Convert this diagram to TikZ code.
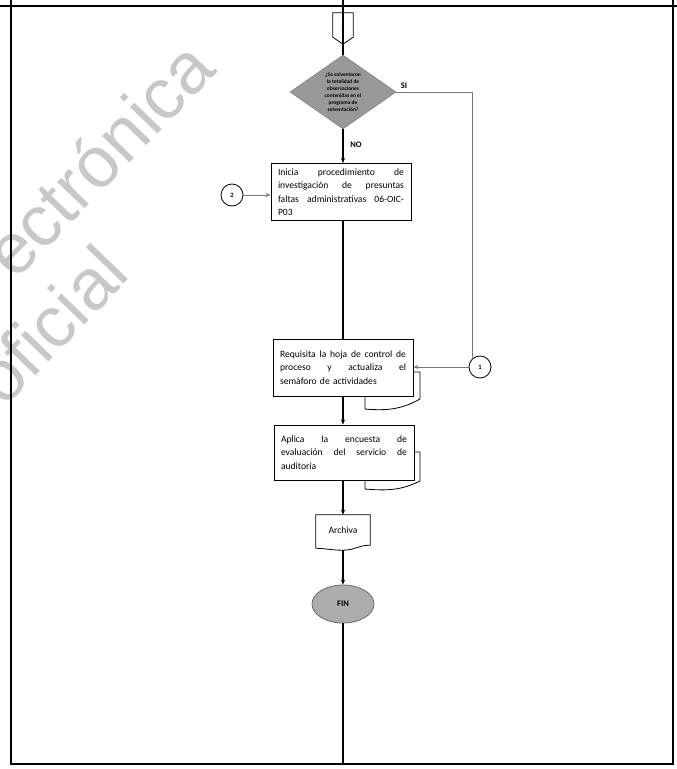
\documentclass[tikz,border=0pt]{standalone}
\usepackage{fontspec}
\setmainfont{Carlito}
\newfontfamily\wmfont{Liberation Sans}
\usetikzlibrary{shapes.geometric,arrows.meta,calc}
\definecolor{diagray}{RGB}{152,152,152}
\definecolor{fingray}{RGB}{172,172,172}
\definecolor{wmgray}{RGB}{200,200,200}
\definecolor{linegray}{RGB}{120,120,120}
\newcommand\jl[1]{\leavevmode\hbox to 126pt{#1}}
\begin{document}
\begin{tikzpicture}[x=1pt,y=-1pt,
 mainline/.style={line width=1.3pt, black},
 thinline/.style={line width=0.6pt, linegray},
 frameline/.style={line width=1.2pt, black},
 arr/.style={-{Stealth[length=5pt,width=4pt]}},
 procbox/.style={draw, line width=0.9pt, rectangle, inner xsep=7pt, inner ysep=0pt,
   text width=126pt, minimum width=140pt, font=\fontsize{9.6}{13.5}\selectfont, align=left, fill=white},
 docline/.style={draw, line width=0.8pt, fill=white},
 conn/.style={draw, circle, line width=0.8pt, minimum size=22pt, inner sep=0pt,
   font=\bfseries\fontsize{6.5}{7}\selectfont, fill=white},
 lab/.style={font=\bfseries\fontsize{8.5}{9}\selectfont, inner sep=0pt},
 wm/.style={font=\wmfont\fontsize{72}{72}\selectfont, text=wmgray, inner sep=0pt, anchor=base west, rotate=46}
]
\useasboundingbox (0,0) rectangle (677,769);
% watermark
\begin{scope}
\clip (0,0) rectangle (677,769);
\node[wm] (wm1) at (15,282) {ectrónica};
\node[wm] (wm2) at (4,409) {oficial};
\end{scope}
% frame
\draw[line width=2.4pt] (0,6) -- (677,6);
\draw[frameline] (11,0) -- (11,765);
\draw[frameline] (673,0) -- (673,765);
\draw[frameline] (11,764) -- (673,764);
% coordinates
\coordinate (top) at (343,0);
\coordinate (bot) at (343,764);
% off-page connector
\node[inner sep=0pt, minimum width=20pt, minimum height=31pt] (off3) at (343,28.5) {};
\draw[line width=0.8pt] (off3.north west) -- (off3.north east) -- ($(off3.south east)+(0,-7)$)
  -- (off3.south) -- ($(off3.south west)+(0,-7)$) -- cycle;
\node[font=\bfseries\fontsize{6}{6}\selectfont, inner sep=0pt] (off3lab) at (off3.center) {3};
% decision
\node[diamond, draw=diagray!75!black, fill=diagray, aspect=1.43, inner sep=0pt,
  minimum width=106pt, minimum height=74pt, align=center,
  font=\bfseries\fontsize{5.4}{7}\selectfont] (dia) at (343,92)
  {¿Se solventaron\\la totalidad de\\observaciones\\contenidas en el\\programa de\\solventación?};
\node[lab] (si) at (404,86) {SI};
\node[lab] (no) at (356,145) {NO};
% document shadows
\draw[docline] (365,372) -- (420,372) -- (420,399) .. controls (402,409) and (388,411) .. (365,409) -- cycle;
\draw[docline] (365,452) -- (420,452) -- (420,481) .. controls (402,490) and (388,491) .. (365,489) -- cycle;
% process boxes
\node[procbox, minimum height=57pt] (box1) at (341,192)
  {\jl{Inicia\hfill procedimiento\hfill de}\\\jl{investigación\hfill de\hfill presuntas}\\\jl{faltas\hfill administrativas\hfill 06-OIC-}\\P03};
\node[procbox, minimum height=57pt] (box2) at (343,367.5)
  {\jl{Requisita\hfill la\hfill hoja\hfill de\hfill control\hfill de}\\\jl{proceso\hfill y\hfill actualiza\hfill el}\\semáforo de actividades};
\node[procbox, minimum height=55pt] (box3) at (344,452.5)
  {\jl{Aplica\hfill la\hfill encuesta\hfill de}\\\jl{evaluación\hfill del\hfill servicio\hfill de}\\auditoría};
% archive document
\node[inner sep=0pt, minimum width=54pt, minimum height=30pt, font=\fontsize{9.6}{10}\selectfont] (arch) at (343,530) {Archiva};
\draw[line width=0.8pt] (arch.south west) -- (arch.north west) -- (arch.north east) -- (arch.south east)
  .. controls +(-12,0) and +(12,0) .. ($(arch.south)+(0,5)$)
  .. controls +(-12,0) and +(8,0) .. ($(arch.south west)+(0,3)$) -- cycle;
% end
\node[ellipse, draw=diagray!70!black, line width=0.8pt, fill=fingray, minimum width=62pt, minimum height=38pt,
  inner sep=0pt, font=\bfseries\fontsize{8.5}{9}\selectfont] (fin) at (343,604) {FIN};
% connectors (circles)
\node[conn] (c1) at (480,367) {1};
\node[conn] (c2) at (232,195) {2};
% main flow
\draw[mainline] (top) -- (dia.north);
\draw[mainline, arr] (dia.south) -- (dia.south |- box1.north);
\draw[mainline] (dia.south |- box1.south) -- (box2.north);
\draw[mainline, arr] (box2.south) -- (box2.south |- box3.north);
\draw[mainline, arr] (box2.south |- box3.south) -- (arch.north);
\draw[mainline, arr] ($(arch.south)+(0,5)$) -- (fin.north);
\draw[mainline] (fin.south) -- (bot);
% side flows
\draw[thinline] (dia.east) -| (c1.north west);
\draw[thinline, arr] (c1.west) -- (c1.west -| box2.east);
\draw[thinline, arr] (c2.east) -- (c2.east -| box1.west);
\end{tikzpicture}
\end{document}
